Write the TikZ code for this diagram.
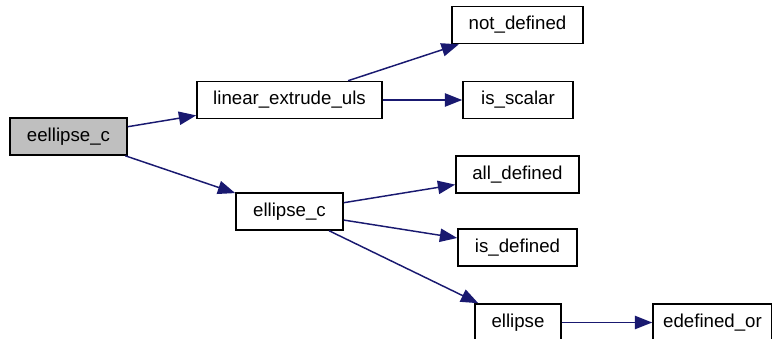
\documentclass[tikz,border=0pt]{standalone}
\usepackage{fontspec}
\setmainfont{Liberation Sans}
\usetikzlibrary{arrows.meta}
\definecolor{callgray}{HTML}{BFBFBF}
\definecolor{callblue}{HTML}{191970}
\begin{document}
\begin{tikzpicture}[x=0.75pt,y=-0.75pt,
		fn/.style={draw, line width=1.2pt, fill=white, inner sep=0pt, minimum height=27.75pt, font=\fontsize{14}{16}\selectfont},
		call/.style={draw=callblue, line width=1.1pt, -{Triangle[length=13pt,width=10pt]}, color=callblue}]
			\useasboundingbox (0,0) rectangle (772,339);
			\clip (0,0) rectangle (772,339);
			
			%functions
			\node (eellipsec) at (68.5,136.5) [fn, fill=callgray, minimum width=87.75pt]{eellipse\_c};
			\node (linearextrudeuls) at (289.5,100) [fn, minimum width=138.75pt]{linear\_extrude\_uls};
			\node (notdefined) at (517.5,25) [fn, minimum width=98.25pt]{not\_defined};
			\node (isscalar) at (518,100) [fn, minimum width=82.5pt]{is\_scalar};
			\node (ellipsec) at (289.5,211.5) [fn, minimum width=80.25pt]{ellipse\_c};
			\node (alldefined) at (517.5,174.5) [fn, minimum width=92.25pt]{all\_defined};
			\node (isdefined) at (517.5,247.5) [fn, minimum width=89.25pt]{is\_defined};
			\node (ellipse) at (518,322.5) [fn, minimum width=64.5pt]{ellipse};
			\node (edefinedor) at (712.5,322.5) [fn, minimum width=89.25pt]{edefined\_or};
			
			%calls
			\draw[call] (eellipsec) -- (linearextrudeuls);
			\draw[call] (eellipsec) -- (ellipsec);
			\draw[call] (linearextrudeuls) -- (notdefined);
			\draw[call] (linearextrudeuls) -- (isscalar);
			\draw[call] (ellipsec) -- (alldefined);
			\draw[call] (ellipsec) -- (isdefined);
			\draw[call] (ellipsec) -- (ellipse);
			\draw[call] (ellipse) -- (edefinedor);
		\end{tikzpicture}
\end{document}
